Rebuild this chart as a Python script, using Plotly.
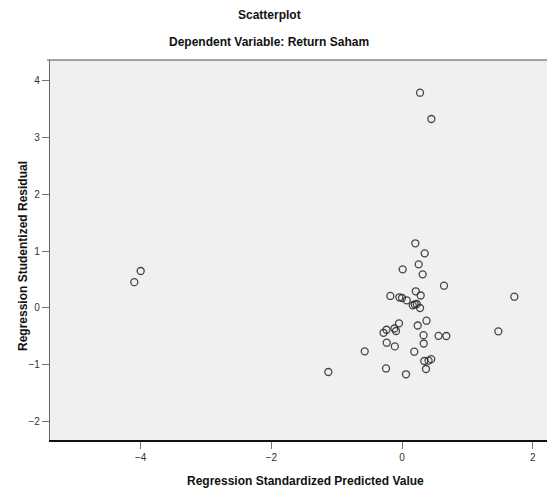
import plotly.graph_objects as go

# Regression standardized predicted values (x) and studentized residuals (y)
pred = [0.276, 0.449, 0.204, 0.347, 0.255, 0.010, 0.316, 0.643, 1.719, -0.179,
        0.210, 0.286, -0.041, 0.000, 0.072, 0.164, 0.194, 0.225, 0.276, -0.046,
        0.375, 0.240, -0.237, -0.283, -0.117, -0.092, 0.329, 0.559, 0.678, 1.474,
        -0.234, -0.110, 0.332, -0.571, 0.187, 0.340, 0.406, 0.447, -0.245, 0.367,
        0.061, -1.128, -4.000, -4.098]
resid = [3.777, 3.316, 1.135, 0.959, 0.766, 0.678, 0.591, 0.391, 0.198, 0.211,
         0.293, 0.219, 0.188, 0.175, 0.135, 0.047, 0.065, 0.070, 0.000, -0.269,
         -0.223, -0.307, -0.382, -0.435, -0.360, -0.404, -0.477, -0.488, -0.491, -0.409,
         -0.609, -0.674, -0.623, -0.760, -0.767, -0.930, -0.923, -0.898, -1.061, -1.070,
         -1.163, -1.123, 0.649, 0.453]

x_ticks = [-4, -2, 0, 2]
y_ticks = [-2, -1, 0, 1, 2, 3, 4]

FONT = "Liberation Sans, Arial, sans-serif"

fig = go.Figure()
fig.add_trace(go.Scatter(
    x=pred, y=resid, mode="markers",
    marker=dict(symbol="circle-open", size=7, color="rgba(40,40,40,0.85)",
                line=dict(width=1.3, color="rgba(40,40,40,0.85)")),
    hoverinfo="skip", showlegend=False,
))

W, H = 547, 489
ml, mr, mt, mb = 50, 0, 60, 49
pw, ph = W - ml - mr, H - mt - mb

def px(xp):
    return (xp - ml) / pw

def py(yp):
    return (H - mb - yp) / ph

fig.update_layout(
    width=W, height=H,
    margin=dict(l=ml, r=mr, t=mt, b=mb, pad=0),
    paper_bgcolor="white", plot_bgcolor="#F0F0F0",
    font=dict(family=FONT, size=10, color="#333333"),
    xaxis=dict(range=[-5.388, 2.219], tickvals=x_ticks, ticks="outside", ticklen=7,
               tickcolor="#777777", tickwidth=1, showgrid=False, zeroline=False,
               showline=True, linecolor="#111111", linewidth=1.5,
               tickfont=dict(size=10, color="#333333")),
    yaxis=dict(range=[-2.316, 4.351], tickvals=y_ticks, ticks="outside", ticklen=7,
               tickcolor="#777777", tickwidth=1, showgrid=False, zeroline=False,
               showline=True, linecolor="#666666", linewidth=1.2,
               tickfont=dict(size=10, color="#333333")),
    shapes=[dict(type="line", xref="paper", yref="paper", x0=px(47), x1=1.0,
                 y0=1.0, y1=1.0, line=dict(color="#888888", width=1.5))],
    annotations=[
        dict(text="<b>Scatterplot</b>", xref="paper", yref="paper",
             x=px(269), y=py(15), xanchor="center", yanchor="middle",
             showarrow=False, font=dict(size=12, color="#111111", family=FONT)),
        dict(text="<b>Dependent Variable: Return Saham</b>", xref="paper", yref="paper",
             x=px(269), y=py(42), xanchor="center", yanchor="middle",
             showarrow=False, font=dict(size=12, color="#111111", family=FONT)),
        dict(text="<b>Regression Standardized Predicted Value</b>", xref="paper", yref="paper",
             x=px(305), y=py(481), xanchor="center", yanchor="middle",
             showarrow=False, font=dict(size=12, color="#111111", family=FONT)),
        dict(text="<b>Regression Studentized Residual</b>", xref="paper", yref="paper",
             x=px(23), y=py(256), xanchor="center", yanchor="middle", textangle=-90,
             showarrow=False, font=dict(size=12, color="#111111", family=FONT)),
    ],
)

fig.write_html("out.html", config={"displayModeBar": False},
               post_script="document.body.style.margin='0';document.body.style.overflow='hidden';")
